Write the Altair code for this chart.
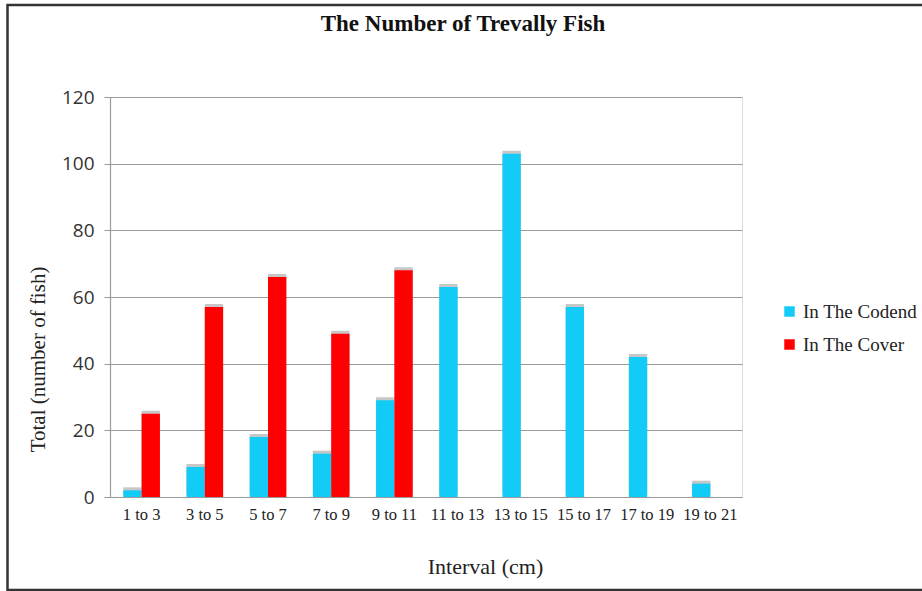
import altair as alt
import pandas as pd

# Size intervals (cm) and fish counts per catch location
intervals = ["1 to 3", "3 to 5", "5 to 7", "7 to 9", "9 to 11",
             "11 to 13", "13 to 15", "15 to 17", "17 to 19", "19 to 21"]
codend = [2, 9, 18, 13, 29, 63, 103, 57, 42, 4]
cover = [25, 57, 66, 49, 68, None, None, None, None, None]

series = ["In The Codend", "In The Cover"]
colors = ["#12CBF6", "#FF0000"]

rows = []
for i, iv in enumerate(intervals):
    if codend[i] is not None:
        rows.append({"Interval": iv, "Series": series[0], "Total": codend[i]})
    if cover[i] is not None:
        rows.append({"Interval": iv, "Series": series[1], "Total": cover[i]})
df = pd.DataFrame(rows)

W, H = 632, 400
SERIF = "Liberation Serif"
SANS = "Open Sans"

x_enc = alt.X(
    "Interval:N", sort=intervals,
    scale=alt.Scale(paddingInner=0.42, paddingOuter=0.21),
    axis=alt.Axis(
        title="Interval (cm)", titleFont=SERIF, titleFontSize=22,
        titleFontWeight="normal", titleColor="#222222",
        titleX=375, titleY=81, titleBaseline="bottom",
        labelFont=SERIF, labelFontSize=16.5, labelColor="#222222",
        labelAngle=0, labelPadding=9, ticks=False,
        domainColor="#9a9a9a", domainWidth=1.2,
    ),
)
xoff = alt.XOffset("Series:N", sort=series, scale=alt.Scale(domain=series))
y_enc = alt.Y(
    "Total:Q",
    scale=alt.Scale(domain=[0, 120], nice=False),
    axis=alt.Axis(
        values=[0, 20, 40, 60, 80, 100, 120],
        title="Total (number of fish)", titleFont=SERIF, titleFontSize=21,
        titleFontWeight="normal", titleColor="#222222",
        titleX=-62, titleY=262, titleAngle=-90, titleBaseline="bottom",
        labelFont=SANS, labelFontSize=19, labelColor="#333333",
        labelPadding=10, tickSize=6, tickColor="#9a9a9a",
        gridColor="#9a9a9a", gridWidth=1,
        domainColor="#9a9a9a", domainWidth=1.2,
    ),
)

base = alt.Chart(df)

# soft drop shadow behind each bar
shadow = base.mark_bar(color="#444444", opacity=0.3, xOffset=-2.5, yOffset=-3).encode(
    x=x_enc, xOffset=xoff, y=y_enc
)

bars = base.mark_bar().encode(
    x=x_enc, xOffset=xoff, y=y_enc,
    color=alt.Color(
        "Series:N", sort=series,
        scale=alt.Scale(domain=series, range=colors),
        legend=alt.Legend(
            title=None, orient="none", legendX=670, legendY=205,
            symbolType="square", symbolSize=110, symbolStrokeWidth=0,
            labelFont=SERIF, labelFontSize=19, labelColor="#222222",
            rowPadding=13, labelOffset=4,
        ),
    ),
)

# outer frame of the figure
frame = alt.Chart(pd.DataFrame({"k": [0]})).mark_rect(
    fill=None, stroke="#333333", strokeWidth=2.5
).encode(
    x=alt.value(-102.5), x2=alt.value(W + 190),
    y=alt.value(-92), y2=alt.value(H + 93),
)

chart = alt.layer(shadow, bars, frame).properties(
    width=W, height=H,
    title=alt.Title(
        "The Number of Trevally Fish", font=SERIF, fontSize=23,
        fontWeight="bold", color="#111111", anchor="middle",
        dx=37, offset=-32,
    ),
    autosize=alt.AutoSizeParams(type="none"),
    padding={"left": 110, "top": 97, "right": 180, "bottom": 94},
).configure_view(stroke=None).configure(background="white")

chart.save("out.html", embed_options={"renderer": "svg", "actions": False})
